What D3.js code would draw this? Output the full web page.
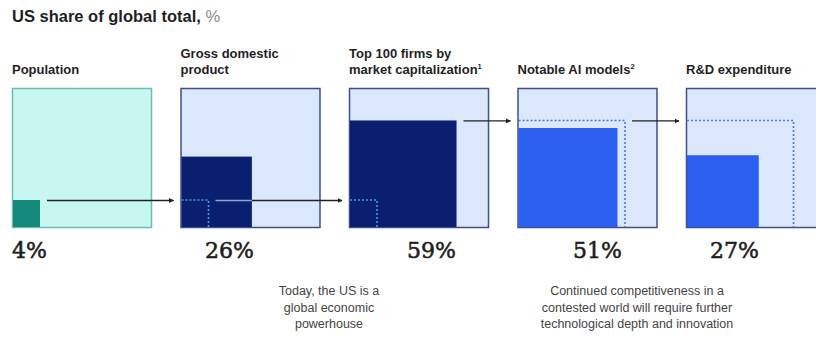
<!DOCTYPE html>
<html>
<head>
<meta charset="utf-8">
<script src="https://cdn.jsdelivr.net/npm/d3@7"></script>
<style>
  html, body { margin: 0; padding: 0; background: #ffffff; }
  svg { display: block; }
</style>
</head>
<body>
<div id="chart"></div>
<script>
// US share of global total, % — one square per metric
const categories = ["Population", "Gross domestic product", "Top 100 firms by market capitalization", "Notable AI models", "R&D expenditure"];
const labelLines = [["Population"], ["Gross domestic", "product"], ["Top 100 firms by", "market capitalization"], ["Notable AI models"], ["R&D expenditure"]];
const footnoteMarks = ["", "", "1", "2", ""];
const shares = [4, 26, 59, 51, 27];
// share of an earlier metric outlined (dotted) inside each box for comparison
const referenceShares = [null, 4, 4, 59, 59];
const noteLeft = ["Today, the US is a", "global economic", "powerhouse"];
const noteRight = ["Continued competitiveness in a", "contested world will require further", "technological depth and innovation"];

const W = 816, H = 341;
const boxTop = 88, boxSize = 140;

const svg = d3.select("#chart").append("svg")
  .attr("width", W).attr("height", H);

// box positions along the row and square side from share (area-proportional)
const x = d3.scaleLinear().domain([0, categories.length - 1]).range([12, 686]);
const side = d3.scaleSqrt().domain([0, 100]).range([0, boxSize]);
const boxBottom = boxTop + boxSize;

const boxStyles = [
  { bg: "#c8f6f1", border: "#6cbfb0", fill: "#168a7a", dot: "#2f8fcf" },
  { bg: "#dbe7fb", border: "#3f4f8e", fill: "#0a1f6f", dot: "#4a9be0", arrowOnFill: "#8aa6e8" },
  { bg: "#dbe7fb", border: "#3f4f8e", fill: "#0a1f6f", dot: "#4a9be0", arrowOnFill: "#8aa6e8" },
  { bg: "#dbe7fb", border: "#3f4f8e", fill: "#2b5ff0", dot: "#5572e6" },
  { bg: "#dbe7fb", border: "#3f4f8e", fill: "#2b5ff0", dot: "#5572e6" }
];

const rows = categories.map((name, i) => ({
  i, name, lines: labelLines[i], mark: footnoteMarks[i],
  share: shares[i], ref: referenceShares[i], style: boxStyles[i]
}));

// title
const title = svg.append("text")
  .attr("x", 12).attr("y", 22)
  .attr("font-family", "'Liberation Sans', Arial, sans-serif")
  .attr("font-size", 16.5).attr("font-weight", "bold").attr("fill", "#1f1f1f")
  .text("US share of global total, ");
title.append("tspan").attr("font-weight", "normal").attr("fill", "#8a8a8a").text("%");

// arrow head
svg.append("defs").append("marker")
  .attr("id", "head").attr("viewBox", "0 0 10 10")
  .attr("refX", 9).attr("refY", 5)
  .attr("markerWidth", 5).attr("markerHeight", 5)
  .attr("markerUnits", "userSpaceOnUse")
  .attr("orient", "auto")
  .append("path").attr("d", "M0,0 L10,5 L0,10 z").attr("fill", "#222");

const g = svg.selectAll("g.box").data(rows).join("g").attr("class", "box");

// category labels
g.each(function(d) {
  const t = d3.select(this).append("text")
    .attr("font-family", "'Liberation Sans', Arial, sans-serif")
    .attr("font-size", 13).attr("font-weight", "bold").attr("fill", "#1f1f1f");
  d.lines.forEach((ln, j) => {
    t.append("tspan").attr("x", x(d.i))
      .attr("y", 74 - (d.lines.length - 1 - j) * 16.5).text(ln);
  });
  if (d.mark) {
    t.append("tspan").attr("font-size", 7.5).attr("dy", -5).text(d.mark);
  }
});

// outer box
g.append("rect")
  .attr("x", d => x(d.i) + 0.5).attr("y", boxTop + 0.5)
  .attr("width", boxSize - 1).attr("height", boxSize - 1)
  .attr("fill", d => d.style.bg)
  .attr("stroke", d => d.style.border).attr("stroke-width", 1.5);

// share square, anchored bottom-left
g.append("rect")
  .attr("x", d => x(d.i) + 1)
  .attr("y", d => boxBottom - side(d.share))
  .attr("width", d => side(d.share) - 1)
  .attr("height", d => side(d.share) - 1)
  .attr("fill", d => d.style.fill);

// dotted outline of the reference share
g.filter(d => d.ref != null)
  .append("path")
  .attr("d", d => {
    const s = side(d.ref);
    const x0 = x(d.i) + 1, y1 = boxBottom - 1;
    return `M${x0},${boxBottom - s} H${x0 + s - 1} V${y1}`;
  })
  .attr("fill", "none")
  .attr("stroke", d => d.style.dot)
  .attr("stroke-width", 1.6)
  .attr("stroke-dasharray", "2,2");

// percent values
g.append("text")
  .attr("x", d => [12, 205, 407, 573, 710][d.i])
  .attr("y", 258)
  .attr("font-family", "'DejaVu Serif', Georgia, serif")
  .attr("font-size", 22).attr("fill", "#1d1d1d")
  .attr("stroke", "#1d1d1d").attr("stroke-width", 0.55)
  .text(d => d.share + "%");

// arrows linking each box to the next, at the level of the compared share
rows.slice(0, -1).forEach(d => {
  const ref = rows[d.i + 1].ref;
  const y = boxBottom - side(ref) + 0.5;
  const x0 = x(d.i) + 1 + side(ref) + 6;
  const x1 = x(d.i + 1) - 7;
  svg.append("line")
    .attr("x1", x0).attr("x2", x1).attr("y1", y).attr("y2", y)
    .attr("stroke", "#222").attr("stroke-width", 1.3)
    .attr("marker-end", "url(#head)");
  const fillRight = x(d.i) + side(d.share);
  if (x0 < fillRight && d.style.arrowOnFill) {
    svg.append("line")
      .attr("x1", x0).attr("x2", fillRight).attr("y1", y).attr("y2", y)
      .attr("stroke", d.style.arrowOnFill).attr("stroke-width", 1.3);
  }
});

// closing notes
function note(lines, cx) {
  const t = svg.append("text")
    .attr("font-family", "'Liberation Sans', Arial, sans-serif")
    .attr("font-size", 12.5).attr("fill", "#444").attr("text-anchor", "middle");
  lines.forEach((ln, j) => t.append("tspan").attr("x", cx).attr("y", 295 + j * 16.5).text(ln));
}
note(noteLeft, 329);
note(noteRight, 637);
</script>
</body>
</html>
